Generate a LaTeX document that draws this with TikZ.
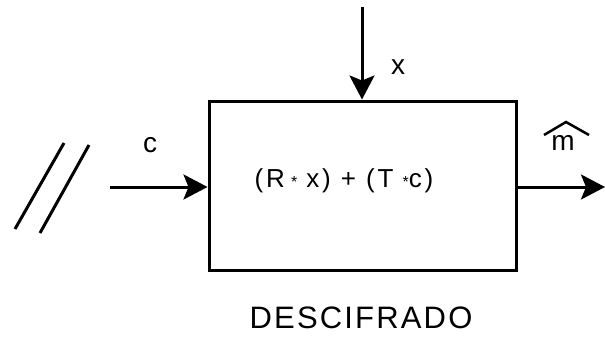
\documentclass[tikz,border=0pt]{standalone}
\usepackage{fontspec}
\setmainfont[LetterSpace=7]{Liberation Sans}
\newfontfamily\formfont[LetterSpace=11]{Liberation Sans}
\usetikzlibrary{arrows.meta,calc}
\newcommand\myast{{\fontsize{16}{16}\selectfont *}}
\begin{document}
\begin{tikzpicture}[x=1pt,y=-1pt,
  arr/.style={line width=3pt,-{Stealth[length=24pt,width=25pt,inset=5pt]}},
  lbl/.style={inner sep=0pt,font=\fontsize{28}{28}\selectfont},
  slash/.style={line width=3pt}]
\useasboundingbox (0,0) rectangle (605,337);
\node[draw,line width=3pt,minimum width=307.5pt,minimum height=169pt,inner sep=0pt] (box) at (362.75,185.5) {};
\node[inner sep=0pt,font=\formfont\fontsize{26}{26}\selectfont] (formula) at (344,181) {(R\hspace{6pt}\myast\hspace{9pt}x) + (T\hspace{9pt}\myast c)};
\node[inner sep=0pt,font=\fontsize{31}{31}\selectfont] (title) at (361,318) {DESCIFRADO};
\coordinate (topstart) at (362,7);
\draw[arr] (topstart) -- (topstart |- box.north);
\node[lbl] (xlabel) at (398,67) {x};
\coordinate (cstart) at (110,187);
\draw[arr] (cstart) -- (cstart -| box.west);
\node[lbl] (clabel) at (150,145) {c};
\coordinate (mend) at (605,187);
\draw[arr] (box.east |- mend) -- (mend);
\node[lbl] (mlabel) at (563,143) {m};
\draw[line width=2.5pt] ($(mlabel.center)+(-19,-8)$) -- ($(mlabel.center)+(3,-21)$) -- ($(mlabel.center)+(26,-8)$);
\coordinate (s1a) at (15,229); \coordinate (s1b) at (64,143);
\coordinate (s2a) at (40,233); \coordinate (s2b) at (89,145);
\draw[slash] (s1a) -- (s1b);
\draw[slash] (s2a) -- (s2b);
\end{tikzpicture}
\end{document}
